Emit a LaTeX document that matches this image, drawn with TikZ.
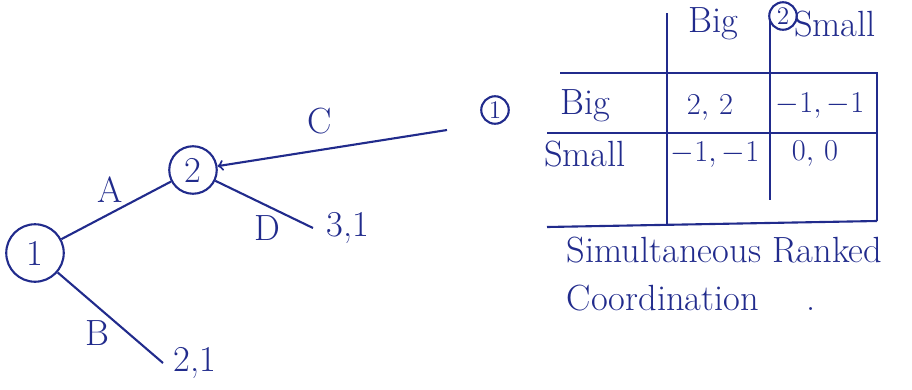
\documentclass[tikz,border=0pt]{standalone}
\usepackage{amsmath,amssymb}
\usepackage{tikz}
\usetikzlibrary{shapes.misc, calc, positioning}
\usepackage{xcolor}
\definecolor{penblue}{rgb}{0.13, 0.17, 0.55}

\begin{document}
\begin{tikzpicture}[penblue, line width=1.2pt,
    player/.style={draw, circle, inner sep=0pt, font=\huge},
    lbl/.style={font=\huge},
    entry/.style={font=\LARGE}]
        \useasboundingbox (0,0) rectangle (18.24,7.78);
        % the tree
        \node[player, minimum width=1.15cm] (one) at (0.70, 2.72) {1};
        \node[player, minimum width=0.95cm] (two) at (3.86, 4.38) {2};
        \coordinate (bend) at (3.26, 0.52);
        \coordinate (dend) at (6.26, 3.22);
        \coordinate (cend) at (8.94, 5.18);
        \draw (one) -- (two);
        \draw (one) -- (bend);
        \draw (two) -- (dend);
        \draw[->] (cend) -- (two);
        \node[lbl] (la) at (2.20, 3.98) {A};
        \node[lbl] (lb) at (1.94, 1.12) {B};
        \node[lbl] (lc) at (6.40, 5.36) {C};
        \node[lbl] (ld) at (5.34, 3.22) {D};
        \node[lbl, right=2pt of bend] (pb) {2,1};
        \node[lbl, right=4pt of dend] (pd) {3,1};
        % the matrix
        \draw (11.20, 6.32) -- (17.54, 6.32) -- (17.54, 3.36);
        \draw (10.94, 5.12) -- (17.54, 5.12);
        \draw (10.94, 3.24) -- (17.54, 3.36);
        \draw (13.34, 7.52) -- (13.34, 3.30);
        \draw (15.40, 7.38) -- (15.40, 3.78);
        \node[player, minimum width=0.55cm, font=\Large] (pone) at (9.90, 5.58) {1};
        \node[player, minimum width=0.55cm, font=\Large] (ptwo) at (15.66, 7.46) {2};
        \node[lbl] (cbig) at (14.26, 7.30) {Big};
        \node[lbl] (csmall) at (16.70, 7.30) {Small};
        \node[lbl] (rbig) at (11.70, 5.66) {Big};
        \node[lbl] (rsmall) at (11.70, 4.70) {Small};
        \node[entry] (bb) at (14.20, 5.62) {$2,\,2$};
        \node[entry] (bs) at (16.40, 5.66) {$-1,-1$};
        \node[entry] (sb) at (14.30, 4.68) {$-1,-1$};
        \node[entry] (ss) at (16.30, 4.70) {$0,\,0$};
        % caption
        \node[lbl, anchor=west, align=left] (cap) at (11.20, 2.30)
            {Simultaneous Ranked\\[2pt]Coordination \quad .};
        % \draw[step=1cm,gray,very thin] (0,0) grid (18,7);
    \end{tikzpicture}
\end{document}
